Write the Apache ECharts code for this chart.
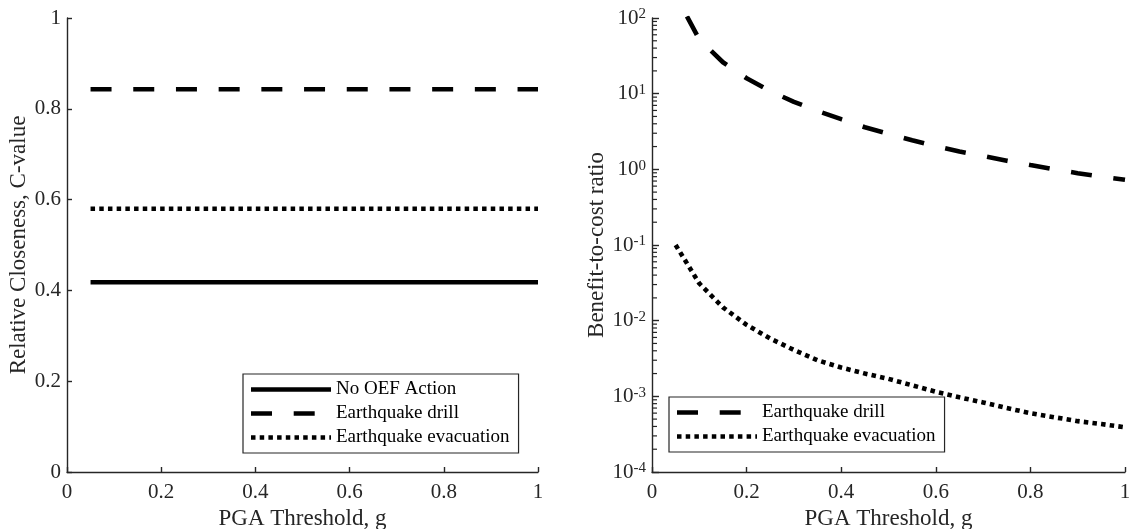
<!DOCTYPE html>
<html>
<head>
<meta charset="utf-8">
<script src="https://cdn.jsdelivr.net/npm/echarts@6/dist/echarts.min.js"></script>
<style>
html,body{margin:0;padding:0;background:#fff;}
#c{width:1130px;height:529px;}
</style>
</head>
<body>
<div id="c"></div>
<script>
// ---- data ----
const seriesNames = ['No OEF Action', 'Earthquake drill', 'Earthquake evacuation'];
// left panel: relative closeness (C-value), constant over threshold
const leftX = [0.05, 1];
const cNoAction = [0.418, 0.418];
const cDrill = [0.843, 0.843];
const cEvac = [0.580, 0.580];
// right panel: benefit-to-cost ratio vs PGA threshold
const rightX = [0.05, 0.1, 0.15, 0.2, 0.25, 0.3, 0.35, 0.4, 0.45, 0.5, 0.55, 0.6, 0.65, 0.7, 0.75, 0.8, 0.85, 0.9, 0.95, 1.0];
const bcrDrill = [200, 52, 26, 16, 10.8, 7.8, 5.9, 4.6, 3.6, 2.95, 2.42, 2.02, 1.72, 1.5, 1.3, 1.14, 1.0, 0.89, 0.8, 0.73];
const bcrEvac = [0.1, 0.031, 0.015, 0.0088, 0.0058, 0.0041, 0.0030, 0.0024, 0.0020, 0.0017, 0.0014, 0.00115, 0.00097, 0.00083, 0.00070, 0.00060, 0.00053, 0.00047, 0.00043, 0.00039];
const logMinorTicks = [];
[-4, -3, -2, -1, 0, 1].forEach(e => { for (let k = 2; k <= 9; k++) logMinorTicks.push(k * Math.pow(10, e)); });

// ---- styling ----
const FONT = 'Liberation Serif';
const AX = '#262626';
const LW = 4.6;
const DASH = [21, 21.7];
const DOT = [4.5, 4.2];
const ICON_W = 80;

function pairs(xs, ys) { return xs.map((x, i) => [x, ys[i]]); }

// legend icons: line samples built from the same dash patterns as the series
function patternIcon(pattern) {
  let d = '';
  if (!pattern) {
    d = 'M0,0h' + ICON_W + 'v' + LW + 'h-' + ICON_W + 'z';
  } else {
    const period = pattern[0] + pattern[1];
    for (let s = 0; s < ICON_W - 0.5; s += period) {
      const len = Math.min(pattern[0], ICON_W - s);
      d += 'M' + s.toFixed(2) + ',0h' + len.toFixed(2) + 'v' + LW + 'h-' + len.toFixed(2) + 'z';
    }
    d += 'M' + (ICON_W - 0.01) + ',0h0.01v0.01h-0.01z';
  }
  return 'path://' + d;
}
const legendIcons = [patternIcon(null), patternIcon(DASH), patternIcon(DOT)];

const axisCommon = {
  axisLine: { show: true, onZero: false, lineStyle: { color: AX, width: 1.4 } },
  axisTick: { show: true, inside: true, length: 5, lineStyle: { color: AX, width: 1.4 } },
  splitLine: { show: false },
  axisLabel: { color: AX, fontFamily: FONT, fontSize: 21, margin: 6 },
  nameTextStyle: { color: AX, fontFamily: FONT, fontSize: 23 },
  nameLocation: 'middle'
};

function xAxis(idx) {
  return Object.assign({}, axisCommon, {
    type: 'value', gridIndex: idx, min: 0, max: 1, interval: 0.2,
    name: 'PGA Threshold, g', nameGap: 33,
    axisLabel: Object.assign({}, axisCommon.axisLabel, { margin: 10 })
  });
}

function legend(idxs, left, top) {
  return {
    data: idxs.map(i => ({ name: seriesNames[i], icon: legendIcons[i] })),
    orient: 'vertical', left: left, top: top,
    itemWidth: ICON_W, itemHeight: 16, itemGap: 5,
    symbolKeepAspect: true,
    padding: [6, 9, 6, 8],
    borderColor: AX, borderWidth: 1.2, borderRadius: 0,
    itemStyle: { color: '#000' },
    textStyle: { fontFamily: FONT, fontSize: 19, color: '#000' },
    selectedMode: false
  };
}

const chart = echarts.init(document.getElementById('c'), null, { renderer: 'canvas' });
const option = {
  animation: false,
  backgroundColor: '#fff',
  grid: [
    { left: 67, top: 18, width: 471, height: 454, containLabel: false, outerBoundsMode: 'none' },
    { left: 652, top: 18, width: 473, height: 454, containLabel: false, outerBoundsMode: 'none' }
  ],
  xAxis: [xAxis(0), xAxis(1)],
  yAxis: [
    Object.assign({}, axisCommon, {
      type: 'value', gridIndex: 0, min: 0, max: 1, interval: 0.2,
      name: 'Relative Closeness, C-value', nameGap: 25
    }),
    Object.assign({}, axisCommon, {
      type: 'log', logBase: 10, gridIndex: 1, min: 0.0001, max: 100, splitNumber: 6,
      name: 'Benefit-to-cost ratio', nameGap: 44,
      axisTick: { show: true, inside: true, length: 7, lineStyle: { color: AX, width: 1.4 } },
      axisLabel: {
        color: AX, fontFamily: FONT, margin: 6,
        formatter: function (v) {
          const e = Math.round(Math.log10(v));
          return '{b|10}{s|' + e + '}';
        },
        rich: {
          b: { fontFamily: FONT, fontSize: 21, color: AX, lineHeight: 22 },
          s: { fontFamily: FONT, fontSize: 15, color: AX, verticalAlign: 'top', lineHeight: 15, padding: [0, 0, 7, 0] }
        }
      }
    })
  ],
  legend: [
    legend([0, 1, 2], 243, 374),
    legend([1, 2], 669, 397)
  ],
  series: [
    { name: seriesNames[0], type: 'line', xAxisIndex: 0, yAxisIndex: 0, data: pairs(leftX, cNoAction),
      symbol: 'none', lineStyle: { color: '#000', width: LW, type: 'solid', cap: 'butt' }, itemStyle: { color: '#000' } },
    { name: seriesNames[1], type: 'line', xAxisIndex: 0, yAxisIndex: 0, data: pairs(leftX, cDrill),
      symbol: 'none', lineStyle: { color: '#000', width: LW, type: DASH, cap: 'butt' }, itemStyle: { color: '#000' } },
    { name: seriesNames[2], type: 'line', xAxisIndex: 0, yAxisIndex: 0, data: pairs(leftX, cEvac),
      symbol: 'none', lineStyle: { color: '#000', width: LW, type: DOT, cap: 'butt' }, itemStyle: { color: '#000' } },
    { name: seriesNames[1], type: 'line', xAxisIndex: 1, yAxisIndex: 1, data: pairs(rightX, bcrDrill),
      symbol: 'none', clip: true, lineStyle: { color: '#000', width: LW, type: DASH, dashOffset: 18.7, cap: 'butt' }, itemStyle: { color: '#000' } },
    { name: seriesNames[2], type: 'line', xAxisIndex: 1, yAxisIndex: 1, data: pairs(rightX, bcrEvac),
      symbol: 'none', clip: true, lineStyle: { color: '#000', width: LW, type: DOT, cap: 'butt' }, itemStyle: { color: '#000' } },
    { name: 'minorTicks', type: 'custom', xAxisIndex: 1, yAxisIndex: 1, silent: true,
      data: logMinorTicks.map(v => [0, v]),
      renderItem: function (params, api) {
        const p = api.coord([api.value(0), api.value(1)]);
        return { type: 'line', shape: { x1: p[0], y1: p[1], x2: p[0] + 5, y2: p[1] },
          style: { stroke: AX, lineWidth: 1.2 } };
      }
    }
  ]
};
chart.setOption(option);
</script>
</body>
</html>
